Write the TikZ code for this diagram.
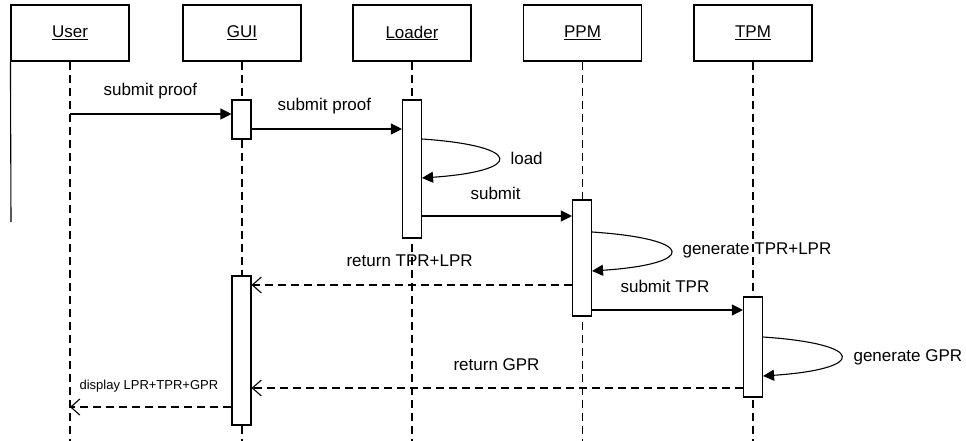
\documentclass[tikz,border=0pt]{standalone}
\usepackage{fontspec}
\setmainfont{Liberation Sans}
\usetikzlibrary{arrows.meta}
\begin{document}
\begin{tikzpicture}[x=1pt,y=-1pt,line width=1.1pt,
 head/.style={draw,minimum width=118pt,minimum height=56pt,inner sep=0pt,font=\fontsize{17}{20}\selectfont},
 act/.style={draw,fill=white,minimum width=19pt,inner sep=0pt},
 life/.style={dash pattern=on 8pt off 5pt},
 sync/.style={-{Triangle[length=11pt,width=11pt]}},
 ret/.style={dash pattern=on 8pt off 5pt,-{Straight Barb[length=9pt,width=16pt]}},
 lbl/.style={inner sep=0pt,anchor=west,font=\fontsize{17}{20}\selectfont},
 slbl/.style={inner sep=0pt,anchor=west,font=\fontsize{13}{15}\selectfont}]
\useasboundingbox (0,0) rectangle (966,441);
\coordinate (bot) at (0,441);
% heads
\node[head] (User) at (70,33) {\underline{User}};
\node[head] (GUI) at (242,33) {\underline{GUI}};
\node[head] (Loader) at (412,33) {\underline{Loader}};
\node[head] (PPM) at (582.5,33) {\underline{PPM}};
\node[head] (TPM) at (753,33) {\underline{TPM}};
% stray left bar
\coordinate (barend) at (11,222);
\draw (User.south west) -- (barend);
% lifelines
\foreach \n in {User,GUI,Loader,PPM,TPM}
  \draw[life] (\n.south) -- (\n.south |- bot);
% activations
\node[act,minimum height=39pt] (g1) at (241.5,119.5) {};
\node[act,minimum height=138pt] (l1) at (412,169) {};
\node[act,minimum height=116pt] (p1) at (582,258) {};
\node[act,minimum height=149pt] (g2) at (241.5,350.5) {};
\node[act,minimum height=100pt] (t1) at (753,347) {};
% messages
\draw[sync] (User.south |- 0,114) -- (g1.west |- 0,114);
\node[lbl] (t1a) at (103,91) {submit proof};
\draw[sync] (g1.east |- 0,129) -- (l1.west |- 0,129);
\node[lbl] (t2a) at (277,106) {submit proof};
\draw[sync] (l1.east |- 0,139) .. controls (524,146) and (524,171) .. (l1.east |- 0,178);
\node[lbl] (t3a) at (510,158) {load};
\draw[sync] (l1.east |- 0,216) -- (p1.west |- 0,216);
\node[lbl] (t4a) at (470,193) {submit};
\draw[sync] (p1.east |- 0,232) .. controls (697,239) and (697,264) .. (p1.east |- 0,271);
\node[lbl] (t5a) at (682,250) {generate TPR+LPR};
\draw[ret] (p1.west |- 0,285) -- (g2.east |- 0,285);
\node[lbl] (t6a) at (346,261) {return TPR+LPR};
\draw[sync] (p1.east |- 0,310) -- (t1.west |- 0,310);
\node[lbl] (t7a) at (620,286) {submit TPR};
\draw[sync] (t1.east |- 0,337) .. controls (867,344) and (867,369) .. (t1.east |- 0,376);
\node[lbl] (t8a) at (853,357) {generate GPR};
\draw[ret] (t1.west |- 0,388) -- (g2.east |- 0,388);
\node[lbl] (t9a) at (453,365) {return GPR};
\draw[ret] (g2.west |- 0,407) -- (User.south |- 0,407);
\node[slbl] (t10a) at (79,386) {display LPR+TPR+GPR};
\end{tikzpicture}
\end{document}
